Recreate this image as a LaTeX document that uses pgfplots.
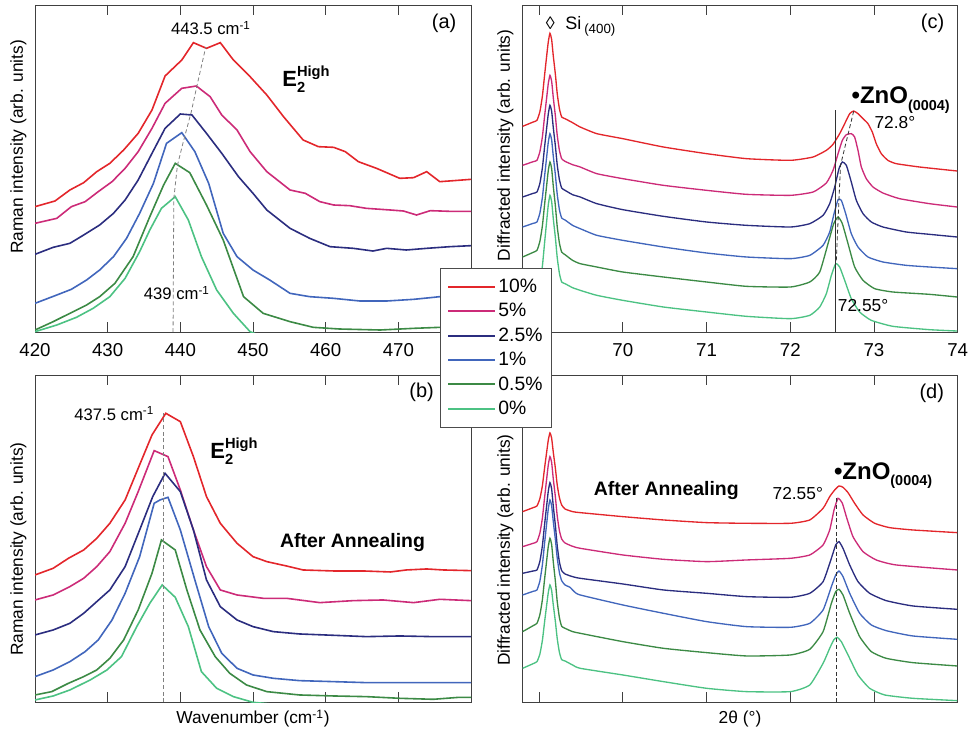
\documentclass[border=0pt]{standalone}
\usepackage{pgfplots}
\pgfplotsset{compat=1.18}
\usepackage{fontspec}
\setmainfont{Liberation Sans}

\definecolor{c10}{HTML}{E3262B}
\definecolor{c5}{HTML}{CC2B78}
\definecolor{c25}{HTML}{2B2D7F}
\definecolor{c1}{HTML}{4166BC}
\definecolor{c05}{HTML}{3C8A45}
\definecolor{c0}{HTML}{4CC283}

\newcommand{\Etwo}{{\bfseries\fontsize{16.5}{18}\selectfont E\rlap{\raisebox{-4.5pt}{\fontsize{11}{12}\selectfont 2}}\raisebox{7.7pt}{\fontsize{11}{12}\selectfont High}}}
\newcommand{\ZnO}{{\bfseries\fontsize{18}{20}\selectfont •ZnO\raisebox{-5pt}{\fontsize{10.8}{12}\selectfont(0004)}}}

\pgfplotsset{
  panel/.style={
    scale only axis,
    axis line style={black!75, line width=0.6pt},
    tick style={black!75, line width=0.6pt},
    tick align=inside,
    major tick length=7.5pt,
    xtick pos=both,
    xticklabel pos=lower,
    ytick=\empty,
    ymin=0,
    /pgf/number format/assume math mode=true,
    tick label style={font=\fontsize{14}{16}\selectfont},
    xticklabel style={yshift=-5pt},
    label style={font=\fontsize{13}{15}\selectfont},
  },
  raman/.style={panel, xmin=420, xmax=480, xtick={420,430,...,480},
    every axis plot/.append style={line width=1.2pt}},
  xrd/.style={panel, xmin=68.8, xmax=74, xtick={69,70,...,74},
    xticklabels={,70,71,72,73,74},
    every axis plot/.append style={line width=1pt, smooth, tension=0.3}},
}

\begin{document}
\begin{tikzpicture}
\useasboundingbox (0,0) rectangle (726.75pt,549.75pt);

% ---------------- (a) Raman, as grown
\begin{axis}[raman, at={(26.25pt,300.75pt)}, anchor=south west,
  width=327pt, height=245.25pt, ymax=981,
  ylabel={Raman intensity (arb. units)},
  ylabel style={at={(axis description cs:-0.038,0.566)}, anchor=center}]
\addplot[c10] coordinates {(420,376)(422.75,393)(424.8,426)(426.7,448)(428.5,481)(430.3,506)(432.2,546)(434.2,596)(436.1,666)(437.9,768)(439.0,791)(440.2,816)(441.8,868)(443.6,851)(445.5,868)(447.3,816)(449.6,766)(451.9,711)(454.2,646)(456.9,576)(459.0,556)(461.1,554)(462.7,541)(464.5,511)(467.0,491)(470.2,461)(472.1,463)(473.9,481)(475.7,451)(477.6,454)(480,458)};
\addplot[c5] coordinates {(420,326)(423.0,341)(425.0,376)(426.9,391)(428.7,421)(430.6,451)(432.4,491)(434.2,541)(436.1,611)(437.9,686)(440.2,731)(442.2,738)(444.1,706)(445.7,651)(447.8,606)(449.6,541)(451.9,481)(455.1,426)(457.2,416)(459.2,391)(461.1,381)(463.3,379)(465.6,371)(468.9,366)(470.7,363)(472.5,351)(474.4,364)(477.1,362)(480,362)};
\addplot[c25] coordinates {(420,233)(422.5,254)(424.8,266)(426.7,291)(428.9,321)(430.8,356)(432.4,396)(434.2,456)(436.1,536)(437.9,611)(440.0,654)(441.6,651)(443.6,596)(445.7,536)(448.0,466)(450.0,416)(451.9,366)(455.1,311)(457.8,281)(460.6,256)(463.8,251)(466.5,243)(468.4,251)(471.1,246)(473.9,251)(477.1,256)(480,259)};
\addplot[c1] coordinates {(420,86)(423.0,111)(425.0,128)(427.1,156)(428.9,186)(430.8,226)(432.6,281)(434.4,356)(436.3,446)(438.1,566)(440.2,598)(442.0,541)(443.9,446)(445.9,296)(447.8,226)(450.0,186)(452.3,156)(455.1,116)(457.8,106)(461.1,101)(464.7,93)(468.4,93)(472.1,98)(474.4,103)(475.7,106)(480,108)};
\addplot[c05] coordinates {(420,6)(422.5,31)(424.8,56)(427.1,81)(428.9,106)(431.0,146)(433.5,226)(435.8,346)(437.7,441)(439.3,506)(441.3,478)(443.6,381)(445.9,276)(448.7,106)(451.4,56)(455.1,31)(458.3,14)(461.9,9)(467.5,6)(472.1,11)(475.7,14)(480,14)};
\addplot[c0] coordinates {(420,1)(423.0,21)(425.7,44)(428.0,71)(430.3,106)(432.4,161)(434.4,241)(435.8,306)(437.4,371)(439.3,406)(441.1,336)(442.9,226)(445.0,126)(447.3,56)(449.6,1)(452,-20)};
\addplot[gray, densely dashed, line width=0.6pt] coordinates {(439,0)(439.1,400)(439.6,500)(440.4,570)(441.5,660)(442.3,740)(443.5,855)};
\node[font=\fontsize{12.5}{14}\selectfont] at (axis cs:444.2,912) {443.5 cm\textsuperscript{-1}};
\node[font=\fontsize{12.5}{14}\selectfont] at (axis cs:439.5,117) {439 cm\textsuperscript{-1}};
\node[anchor=base west, inner sep=0pt] at (axis cs:454.0,735) {\Etwo};
\node[font=\fontsize{15}{17}\selectfont] at (axis cs:476.3,927) {(a)};
\end{axis}

% ---------------- (b) Raman, after annealing
\begin{axis}[raman, at={(26.25pt,23.03pt)}, anchor=south west,
  width=327pt, height=245.5pt, ymax=982, xticklabels={},
  xlabel={Wavenumber (cm\textsuperscript{-1})},
  xlabel style={at={(axis description cs:0.5,-0.05)}, anchor=center},
  ylabel={Raman intensity (arb. units)},
  ylabel style={at={(axis description cs:-0.038,0.468)}, anchor=center}]
\addplot[c10] coordinates {(420,382)(422.5,402)(424.6,432)(426.7,457)(428.5,492)(430.3,537)(432.4,607)(434.2,702)(436.1,802)(438.0,867)(440.0,842)(441.8,737)(443.6,617)(445.5,537)(447.8,477)(450.0,437)(451.9,422)(454.6,409)(456.9,397)(461.1,394)(465.2,394)(468.9,391)(471.1,397)(473.9,400)(476.2,397)(480,395)};
\addplot[c5] coordinates {(420,307)(422.5,322)(424.8,347)(426.7,372)(428.5,407)(430.3,452)(432.4,537)(434.2,632)(436.4,755)(438.3,737)(440.0,637)(441.8,517)(443.6,407)(445.5,337)(447.8,322)(451.4,312)(454.6,312)(459.2,299)(463.8,305)(467.9,307)(472.1,299)(475.7,309)(480,305)};
\addplot[c25] coordinates {(420,202)(422.5,217)(424.8,237)(426.7,267)(428.5,302)(430.3,337)(432.4,407)(434.4,517)(436.2,617)(437.9,687)(440.0,632)(441.8,517)(443.6,367)(445.5,287)(447.8,247)(450.0,227)(452.8,212)(456.4,205)(461.1,201)(465.6,197)(470.2,199)(474.8,197)(480,197)};
\addplot[c1] coordinates {(420,77)(422.5,97)(424.8,122)(426.9,152)(428.7,187)(430.6,247)(432.4,327)(434.4,437)(436.4,597)(437.2,607)(438.3,615)(440.0,517)(442.0,367)(443.9,227)(445.7,147)(447.8,102)(450.0,82)(452.8,72)(456.4,65)(461.1,62)(465.6,59)(470.2,59)(474.8,59)(480,59)};
\addplot[c05] coordinates {(420,22)(422.3,32)(424.6,57)(426.7,77)(428.5,97)(430.3,132)(432.2,187)(434.2,277)(436.1,387)(437.4,487)(439.3,457)(440.9,337)(442.7,217)(444.8,137)(446.8,87)(449.1,52)(451.9,32)(456.4,22)(461.1,19)(465.6,17)(470.2,12)(474.8,9)(478.4,15)(480,15)};
\addplot[c0] coordinates {(420,7)(422.5,19)(424.8,37)(427.6,67)(429.9,97)(431.9,137)(434.0,227)(435.8,297)(437.5,352)(439.3,315)(441.1,227)(442.9,92)(445.0,42)(447.3,17)(450.0,0)(455,-10)};
\addplot[gray, densely dashed, line width=0.6pt] coordinates {(437.7,0)(437.7,867)};
\node[font=\fontsize{12.5}{14}\selectfont] at (axis cs:430.9,865) {437.5 cm\textsuperscript{-1}};
\node[anchor=base west, inner sep=0pt] at (axis cs:444.1,730) {\Etwo};
\node[font=\bfseries\fontsize{14.6}{16}\selectfont] at (axis cs:463.7,478) {After Annealing};
\node[font=\fontsize{15}{17}\selectfont] at (axis cs:473.2,929) {(b)};
\end{axis}

% ---------------- (c) XRD, as grown
\begin{axis}[xrd, at={(391.73pt,300.75pt)}, anchor=south west,
  width=326.55pt, height=245pt, ymax=980,
  ylabel={Diffracted intensity (arb. units)},
  ylabel style={at={(axis description cs:-0.0386,0.571)}, anchor=center}]
\addplot[c10] coordinates {(68.804,617)(68.93,630)(68.975,635)(69.01,661)(69.04,708)(69.065,768)(69.09,826)(69.11,870)(69.13,896)(69.15,878)(69.17,828)(69.195,773)(69.217,715)(69.243,670)(69.27,645)(69.31,640)(69.40,628)(69.491,615)(69.690,595)(70.000,580)(70.485,555)(71.001,535)(71.478,520)(72.002,515)(72.273,525)(72.431,545)(72.511,563)(72.590,595)(72.650,625)(72.710,655)(72.757,663)(72.809,655)(72.869,640)(72.928,625)(72.980,600)(73.027,565)(73.087,535)(73.166,515)(73.266,505)(73.544,495)(73.993,483)};
\addplot[c5] coordinates {(68.804,500)(68.93,511)(68.975,515)(69.01,541)(69.04,586)(69.065,645)(69.09,701)(69.11,745)(69.13,770)(69.15,753)(69.17,703)(69.195,648)(69.217,590)(69.243,545)(69.27,520)(69.31,512)(69.40,502)(69.491,495)(69.690,475)(70.000,460)(70.485,440)(71.001,425)(71.478,413)(72.002,410)(72.273,420)(72.431,447)(72.511,485)(72.571,535)(72.622,575)(72.670,592)(72.729,595)(72.769,585)(72.809,545)(72.849,495)(72.908,460)(72.988,435)(73.107,417)(73.306,400)(73.663,385)(73.993,375)};
\addplot[c25] coordinates {(68.804,405)(68.93,416)(68.975,420)(69.01,446)(69.04,493)(69.065,553)(69.09,610)(69.11,654)(69.13,680)(69.15,663)(69.17,613)(69.195,558)(69.217,501)(69.243,457)(69.27,432)(69.31,425)(69.40,412)(69.491,405)(69.690,385)(70.000,367)(70.485,347)(71.001,330)(71.478,320)(72.002,315)(72.233,325)(72.392,350)(72.471,385)(72.531,435)(72.582,490)(72.622,510)(72.670,500)(72.729,450)(72.789,395)(72.869,355)(72.968,330)(73.107,315)(73.385,300)(73.663,293)(73.993,285)};
\addplot[c1] coordinates {(68.804,315)(68.93,326)(68.975,330)(69.01,357)(69.04,404)(69.065,465)(69.09,523)(69.11,569)(69.13,595)(69.15,577)(69.17,527)(69.195,471)(69.217,413)(69.243,367)(69.27,342)(69.31,336)(69.40,320)(69.491,310)(69.690,290)(70.000,275)(70.485,255)(71.001,237)(71.478,225)(72.002,220)(72.233,230)(72.392,260)(72.471,300)(72.523,355)(72.571,397)(72.610,395)(72.662,355)(72.729,295)(72.809,255)(72.928,225)(73.107,210)(73.385,200)(73.663,195)(73.993,190)};
\addplot[c05] coordinates {(68.804,225)(68.93,239)(68.975,245)(69.01,272)(69.04,319)(69.065,380)(69.09,438)(69.11,484)(69.13,510)(69.15,491)(69.17,437)(69.195,378)(69.217,316)(69.243,267)(69.27,240)(69.31,232)(69.40,215)(69.491,205)(69.690,195)(70.000,180)(70.485,165)(71.001,150)(71.478,137)(72.002,135)(72.233,150)(72.352,180)(72.451,265)(72.519,325)(72.571,345)(72.622,325)(72.690,265)(72.769,195)(72.869,155)(73.008,130)(73.226,120)(73.663,113)(73.993,105)};
\addplot[c0] coordinates {(68.804,95)(68.93,109)(68.975,115)(69.01,145)(69.04,198)(69.065,265)(69.09,330)(69.11,381)(69.13,410)(69.15,392)(69.17,340)(69.195,283)(69.217,223)(69.243,176)(69.27,150)(69.31,145)(69.40,133)(69.491,125)(69.690,110)(70.000,95)(70.485,75)(71.001,60)(71.478,47)(72.002,40)(72.233,50)(72.352,75)(72.431,115)(72.491,170)(72.543,205)(72.590,195)(72.650,155)(72.729,100)(72.829,60)(72.968,35)(73.226,17)(73.663,7)(73.993,3)};
\addplot[black!80, line width=0.7pt, sharp plot] coordinates {(72.543,0)(72.543,665)};
\addplot[black!80, densely dashed, line width=0.6pt, sharp plot] coordinates {(72.55,215)(72.60,500)(72.76,665)};
\node[font=\fontsize{13.5}{15}\selectfont] at (axis cs:69.134,925) {◊};
\node[anchor=base west, inner sep=0pt, font=\fontsize{13.5}{15}\selectfont] at (axis cs:69.31,907) {Si\,\raisebox{-3pt}{\fontsize{10}{12}\selectfont(400)}};
\node[anchor=base west, inner sep=0pt] at (axis cs:72.73,685) {\ZnO};
\node[font=\fontsize{13}{15}\selectfont] at (axis cs:73.25,627) {72.8°};
\node[font=\fontsize{13}{15}\selectfont] at (axis cs:72.87,80) {72.55°};
\node[font=\fontsize{15}{17}\selectfont] at (axis cs:73.70,927) {(c)};
\end{axis}

% ---------------- (d) XRD, after annealing (holds the legend)
\begin{axis}[xrd, at={(391.73pt,23.03pt)}, anchor=south west,
  width=326.55pt, height=245.5pt, ymax=982, xticklabels={},
  xlabel={2θ (°)},
  xlabel style={at={(axis description cs:0.5,-0.05)}, anchor=center},
  ylabel={Diffracted intensity (arb. units)},
  ylabel style={at={(axis description cs:-0.0386,0.465)}, anchor=center},
  legend style={at={(axis description cs:-0.189,1.327)}, anchor=north west,
    draw=black!70, fill=white, line width=0.6pt,
    font=\fontsize{14.5}{16}\selectfont,
    inner xsep=5pt, inner ysep=6pt, row sep=2.7pt},
  legend cell align=left,
  legend image code/.code={\draw[#1, line width=1.5pt, sharp plot] (0pt,0pt) -- (35pt,0pt);}]
\addplot[c10] coordinates {(68.804,572)(68.93,584)(68.975,589)(69.01,611)(69.04,650)(69.065,701)(69.09,749)(69.11,786)(69.13,808)(69.15,793)(69.17,750)(69.195,702)(69.217,652)(69.243,614)(69.27,592)(69.31,580)(69.40,572)(69.491,569)(70.000,557)(70.485,547)(71.001,539)(71.478,537)(72.002,537)(72.233,547)(72.392,582)(72.471,617)(72.531,637)(72.582,649)(72.630,645)(72.690,629)(72.769,597)(72.869,562)(73.008,537)(73.186,524)(73.464,517)(73.993,509)};
\addlegendentry{10\%}
\addplot[c5] coordinates {(68.804,467)(68.93,477)(68.975,482)(69.01,508)(69.04,553)(69.065,612)(69.09,668)(69.11,712)(69.13,737)(69.15,720)(69.17,670)(69.195,616)(69.217,559)(69.243,515)(69.27,490)(69.31,478)(69.40,468)(69.491,462)(70.000,442)(70.485,429)(71.001,422)(71.478,427)(72.002,432)(72.233,442)(72.392,472)(72.471,517)(72.523,577)(72.571,612)(72.622,597)(72.670,557)(72.749,497)(72.869,452)(73.027,427)(73.266,412)(73.993,397)};
\addlegendentry{5\%}
\addplot[c25] coordinates {(68.804,387)(68.93,394)(68.975,397)(69.01,423)(69.04,470)(69.065,531)(69.09,588)(69.11,633)(69.13,659)(69.15,641)(69.17,588)(69.195,530)(69.217,469)(69.243,421)(69.27,395)(69.31,385)(69.40,377)(69.491,372)(70.000,355)(70.485,337)(71.001,327)(71.478,317)(72.002,315)(72.233,327)(72.392,362)(72.491,432)(72.543,472)(72.582,482)(72.630,462)(72.710,412)(72.809,362)(72.948,327)(73.146,305)(73.464,289)(73.993,279)};
\addlegendentry{2.5\%}
\addplot[c1] coordinates {(68.804,322)(68.93,333)(68.975,337)(69.01,364)(69.04,413)(69.065,475)(69.09,534)(69.11,580)(69.13,607)(69.15,590)(69.17,542)(69.195,488)(69.217,433)(69.243,389)(69.27,365)(69.31,352)(69.37,345)(69.42,332)(69.491,322)(70.000,292)(70.485,267)(71.001,242)(71.478,227)(72.002,225)(72.233,237)(72.392,277)(72.491,347)(72.543,382)(72.582,394)(72.630,377)(72.710,327)(72.829,267)(72.968,232)(73.146,215)(73.464,199)(73.993,189)};
\addlegendentry{1\%}
\addplot[c05] coordinates {(68.804,212)(68.93,230)(68.975,237)(69.01,263)(69.04,308)(69.065,367)(69.09,423)(69.11,467)(69.13,492)(69.15,474)(69.17,421)(69.195,363)(69.217,302)(69.243,254)(69.27,228)(69.31,222)(69.40,212)(69.491,207)(70.000,182)(70.485,162)(71.001,149)(71.478,139)(72.002,142)(72.233,159)(72.392,212)(72.491,297)(72.543,332)(72.582,339)(72.630,322)(72.710,267)(72.829,197)(72.968,152)(73.146,132)(73.464,119)(73.993,109)};
\addlegendentry{0.5\%}
\addplot[c0] coordinates {(68.804,102)(68.93,116)(68.975,122)(69.01,145)(69.04,186)(69.065,239)(69.09,290)(69.11,329)(69.13,352)(69.15,336)(69.17,292)(69.195,242)(69.217,191)(69.243,150)(69.27,128)(69.31,124)(69.40,112)(69.491,102)(70.000,82)(70.485,62)(71.001,42)(71.478,32)(72.002,32)(72.233,52)(72.392,117)(72.471,162)(72.519,187)(72.559,195)(72.610,182)(72.690,142)(72.809,82)(72.948,42)(73.127,22)(73.464,12)(73.993,5)};
\addlegendentry{0\%}
\addplot[black!80, densely dashed, line width=0.6pt, sharp plot, forget plot] coordinates {(72.55,0)(72.55,617)};
\node[font=\fontsize{13}{15}\selectfont] at (axis cs:72.09,627) {72.55°};
\node[anchor=base west, inner sep=0pt] at (axis cs:72.52,669) {\ZnO};
\node[font=\bfseries\fontsize{14.6}{16}\selectfont] at (axis cs:70.52,635) {After Annealing};
\node[font=\fontsize{15}{17}\selectfont] at (axis cs:73.69,927) {(d)};
\end{axis}
\end{tikzpicture}
\end{document}
